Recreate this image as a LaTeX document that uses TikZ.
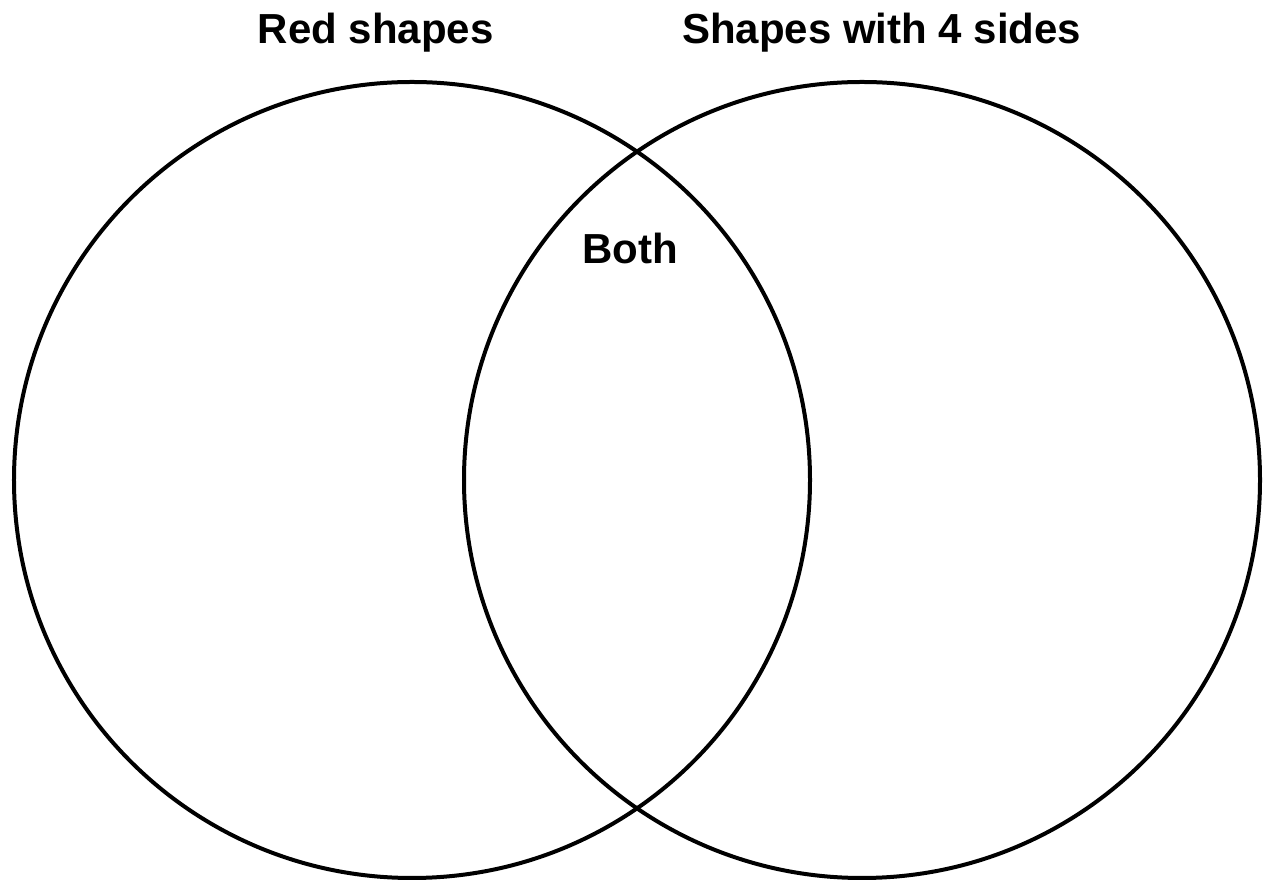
\documentclass[tikz,border=0pt]{standalone}
\usepackage{fontspec}
\setmainfont{Liberation Sans}
\begin{document}
\begin{tikzpicture}[x=1bp,y=1bp,
  setcircle/.style={circle,draw=black,line width=4bp,minimum size=796bp,inner sep=0pt},
  lbl/.style={anchor=base west,inner sep=0pt,font=\fontsize{42bp}{50bp}\selectfont\bfseries}]
\useasboundingbox (0,0) rectangle (1265,880);
\node[setcircle] (left) at (412,400) {};
\node[setcircle] (right) at (862,400) {};
\node[lbl] (redlbl) at (257.5,836.7) {Red shapes};
\node[lbl] (foursides) at (682,836.7) {Shapes with 4 sides};
\node[lbl] (both) at (582,616) {Both};
\end{tikzpicture}
\end{document}
